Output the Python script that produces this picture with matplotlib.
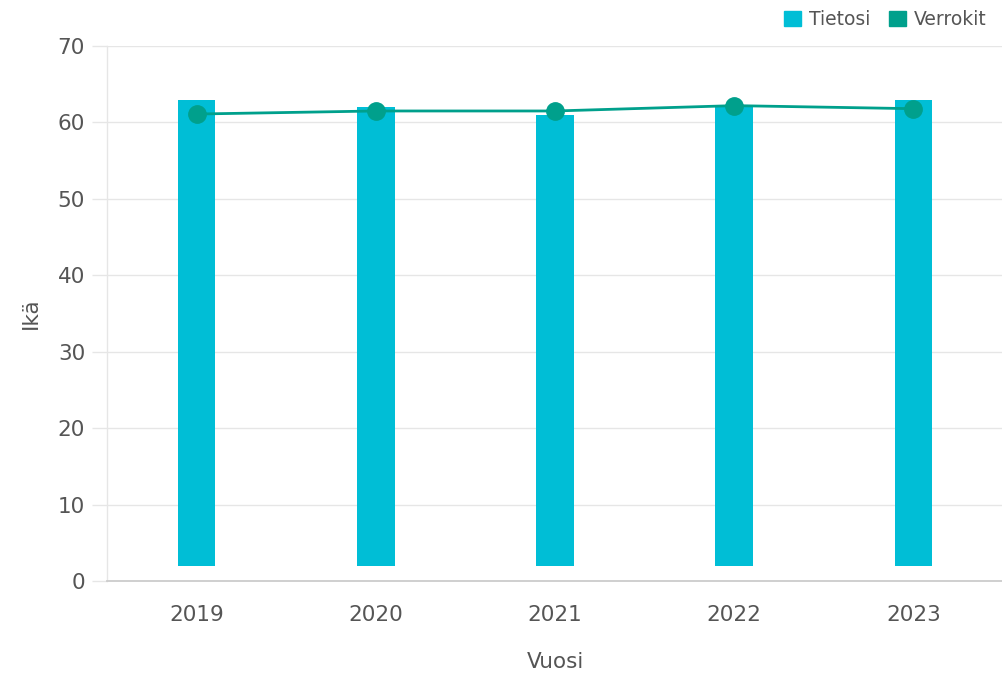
import matplotlib
matplotlib.use("Agg")
import matplotlib.pyplot as plt
import numpy as np
from matplotlib.patches import Patch


years = ["2019", "2020", "2021", "2022", "2023"]
tietosi = [63.0, 62.0, 61.0, 62.0, 63.0]
verrokit = [61.1, 61.5, 61.5, 62.2, 61.8]
bar_base = 1.9

BAR = "#00BED6"
LINE = "#00A08C"
TEXT = "#555555"
GRID = "#E6E6E6"


def main() -> None:
    plt.rcParams.update({"font.family": "DejaVu Sans", "font.size": 15.5})
    fig = plt.figure(figsize=(10.03, 6.94), dpi=100)
    ax = fig.add_axes([0.1067, 0.1628, 0.8933, 0.7709])

    x = np.arange(len(years))
    heights = [v - bar_base for v in tietosi]
    ax.bar(x, heights, bottom=bar_base, width=0.21, color=BAR, zorder=2)
    ax.plot(x, verrokit, color=LINE, lw=2.0, marker="o", ms=12.5, zorder=3)

    ax.set_xlim(-0.5, 4.5)
    ax.set_ylim(0, 70)
    ax.set_yticks(range(0, 71, 10))
    ax.set_xticks(x)
    ax.set_xticklabels(years)
    ax.grid(axis="y", color=GRID, lw=1.0, zorder=0)
    ax.set_axisbelow(True)

    for side in ("top", "right"):
        ax.spines[side].set_visible(False)
    ax.spines["left"].set_color(GRID)
    ax.spines["left"].set_linewidth(1.0)
    ax.spines["bottom"].set_color("#CCCCCC")
    ax.spines["bottom"].set_linewidth(1.3)

    ax.tick_params(axis="y", length=10.8, width=1.0, color=GRID, labelcolor=TEXT, pad=5)
    ax.tick_params(axis="x", length=0, labelcolor=TEXT, pad=17)

    ax.set_xlabel("Vuosi", color=TEXT)
    ax.set_ylabel("Ikä", color=TEXT)
    ax.xaxis.set_label_coords(0.5, -0.133)
    ax.yaxis.set_label_coords(-0.074, 0.5)

    handles = [Patch(color=BAR, label="Tietosi"), Patch(color=LINE, label="Verrokit")]
    fig.legend(
        handles=handles,
        loc="upper right",
        bbox_to_anchor=(1.0, 1.01),
        ncol=2,
        frameon=False,
        fontsize=13.5,
        handlelength=0.9,
        handleheight=0.9,
        handletextpad=0.4,
        columnspacing=1.0,
        labelcolor=TEXT,
    )

    fig.savefig("out.png", dpi=100)


if __name__ == "__main__":
    main()
